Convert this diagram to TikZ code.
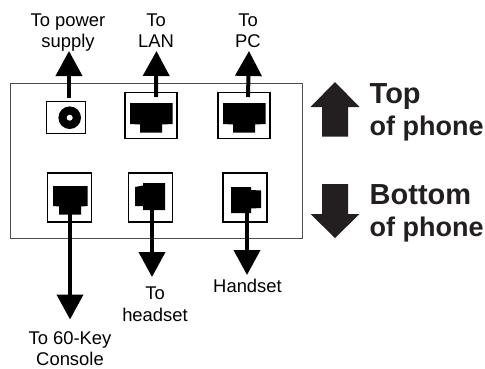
\documentclass[tikz,border=0pt]{standalone}
\usepackage{fontspec}
\setmainfont{Liberation Sans}
\usetikzlibrary{arrows.meta}
\definecolor{ink}{HTML}{231F20}
\tikzset{
  frameline/.style={draw=black!70,line width=0.9pt,fill=none},
  portbox/.style={draw=black,line width=1.1pt,fill=white,inner sep=0pt,minimum width=#1},
  wire/.style={line width=4pt,-{Triangle[length=25pt,width=26pt]},shorten >=0pt},
  jack/.style={fill=black,draw=none},
  small/.style={font=\fontsize{18.4}{20}\selectfont,anchor=base,inner sep=0pt,text=black},
  big/.style={font=\bfseries\fontsize{29}{32}\selectfont,anchor=base west,inner sep=0pt,text=ink},
  mid/.style={font=\bfseries\fontsize{27}{30}\selectfont,anchor=base west,inner sep=0pt,text=ink},
  fat/.style={fill=ink,draw=none}
}
\begin{document}
\begin{tikzpicture}[x=1pt,y=-1pt]
\useasboundingbox (0,0) rectangle (485,368);
\fill[white] (0,0) rectangle (485,368);
\draw[frameline] (10,83) rectangle (302,238);
% boxes
\node[portbox=39pt,minimum height=32pt] (power) at (66,117.5) {};
\node[portbox=52pt,minimum height=46pt] (lan) at (151,115.5) {};
\node[portbox=52pt,minimum height=46pt] (pc) at (244,115.5) {};
\node[portbox=44pt,minimum height=49pt] (console) at (69.5,197.5) {};
\node[portbox=44pt,minimum height=49pt] (headset) at (150.5,197.5) {};
\node[portbox=44pt,minimum height=49pt] (handset) at (245,197.5) {};
% jacks
\fill[black] (69.7,117.7) circle (11.3);
\fill[white] (69.7,117.7) circle (3);
\fill[jack] (130,103) -- (172.5,103) -- (172.5,124) -- (162,124.5) -- (162,132.5) -- (140,132.5) -- (140,124.5) -- (130,124) -- cycle;
\fill[jack] (223,103) -- (265.5,103) -- (265.5,124) -- (255,124.5) -- (255,132.5) -- (233,132.5) -- (233,124.5) -- (223,124) -- cycle;
\fill[jack] (53,186) -- (87.5,186) -- (87.5,206) -- (81,206.5) -- (81,214.5) -- (59,214.5) -- (59,206.5) -- (53,206) -- cycle;
\fill[jack] (143,183) -- (165,183) -- (165,210) -- (143,210) -- (143,206) -- (135,206) -- (135,187) -- (143,185.5) -- cycle;
\fill[jack] (231,187) -- (251,187) -- (251,190) -- (261,190.5) -- (261,208) -- (251,208.5) -- (251,213) -- (231,213) -- cycle;
% connector ends
\coordinate (powerin) at (69,98);
\coordinate (lanin) at (156,97);
\coordinate (pcin) at (248,97);
\coordinate (consolein) at (70,212);
\coordinate (headsetin) at (152,205);
\coordinate (handsetin) at (247,208);
\coordinate (powerout) at (69,51);
\coordinate (lanout) at (156.5,51);
\coordinate (pcout) at (249,51);
\coordinate (consoleout) at (70,319.5);
\coordinate (headsetout) at (152,277);
\coordinate (handsetout) at (247,275);
\foreach \a/\b in {powerin/powerout,lanin/lanout,pcin/pcout,consolein/consoleout,headsetin/headsetout,handsetin/handsetout}
  \draw[wire] (\a) -- (\b);
% labels
\node[small] (t1) at (68,26) {To power};
\node[small] (t2) at (68,47) {supply};
\node[small] (t3) at (156,26) {To};
\node[small] (t4) at (156,47) {LAN};
\node[small] (t5) at (248,26) {To};
\node[small] (t6) at (248,47) {PC};
\node[small] (t7) at (70,344) {To 60-Key};
\node[small] (t8) at (70,365) {Console};
\node[small] (t9) at (155,299) {To};
\node[small] (t10) at (155,321) {headset};
\node[small] (t11) at (247.5,292) {Handset};
% big arrows
\fill[fat] (335,82) -- (359.5,107) -- (348,107) -- (348,136.5) -- (322,136.5) -- (322,107) -- (310.5,107) -- cycle;
\fill[fat] (335,238) -- (359.5,214) -- (348,214) -- (348,184) -- (322,184) -- (322,214) -- (310.5,214) -- cycle;
\node[big] (top) at (369.5,103) {Top};
\node[mid] (ofa) at (369.5,135) {of phone};
\node[big] (bottom) at (369.5,204) {Bottom};
\node[mid] (ofb) at (369.5,236) {of phone};
\end{tikzpicture}
\end{document}
